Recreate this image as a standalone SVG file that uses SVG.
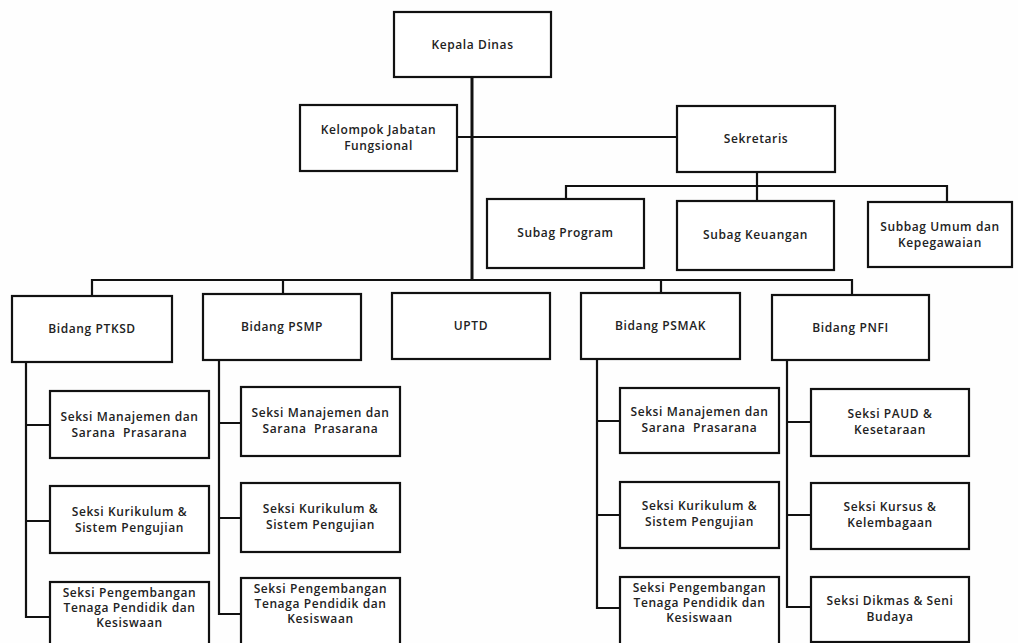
<svg xmlns="http://www.w3.org/2000/svg" width="1018" height="643" viewBox="0 0 1018 643">
<style>
.b{fill:#fff;stroke:#111;stroke-width:2.2}
.c{fill:none;stroke:#111;stroke-width:2.2}
.m{stroke-width:3}
text{font-family:"Open Sans","Liberation Sans",sans-serif;font-size:12px;font-weight:600;fill:#222;text-anchor:middle;letter-spacing:0.6px}
</style>
<rect width="1018" height="643" fill="#fefefe"/>
<g id="connectors">
<path class="c m" d="M472 77V280"/>
<path class="c" d="M457 137H677"/>
<path class="c" d="M757 172V186M566 199V186H947V202M757 186V201"/>
<path class="c" d="M92 296V280H852V295M283 280V294M661 280V293"/>
<path class="c" d="M26 362V617H50M26 425H50M26 521H50"/>
<path class="c" d="M219 360V614H241M219 423H241M219 518H241"/>
<path class="c" d="M597 359V608H620M597 421H620M597 515H620"/>
<path class="c" d="M787 360V607H811M787 422H811M787 515H811"/>
</g>
<g id="kepala"><rect class="b" x="394" y="12" width="157" height="65"/><text x="472.5" y="48.5">Kepala Dinas</text></g>
<g id="kelompok"><rect class="b" x="300" y="105" width="157" height="66"/><text x="378.5" y="134">Kelompok Jabatan</text><text x="378.5" y="150">Fungsional</text></g>
<g id="sekretaris"><rect class="b" x="677" y="106" width="158" height="66"/><text x="756" y="143">Sekretaris</text></g>
<g id="subag-program"><rect class="b" x="487" y="199" width="157" height="69"/><text x="565.5" y="237">Subag Program</text></g>
<g id="subag-keuangan"><rect class="b" x="677" y="201" width="157" height="69"/><text x="755.5" y="239">Subag Keuangan</text></g>
<g id="subbag-umum"><rect class="b" x="868" y="202" width="144" height="65"/><text x="940" y="231">Subbag Umum dan</text><text x="940" y="247">Kepegawaian</text></g>
<g id="ptksd"><rect class="b" x="12" y="296" width="160" height="66"/><text x="92" y="333">Bidang PTKSD</text></g>
<g id="psmp"><rect class="b" x="203" y="294" width="158" height="66"/><text x="282" y="331">Bidang PSMP</text></g>
<g id="uptd"><rect class="b" x="392" y="293" width="158" height="66"/><text x="471" y="330">UPTD</text></g>
<g id="psmak"><rect class="b" x="581" y="293" width="159" height="66"/><text x="660.5" y="330">Bidang PSMAK</text></g>
<g id="pnfi"><rect class="b" x="772" y="295" width="157" height="65"/><text x="850.5" y="332">Bidang PNFI</text></g>
<g id="ptksd-1"><rect class="b" x="50" y="391" width="159" height="67"/><text x="129.5" y="421">Seksi Manajemen dan</text><text x="129.5" y="437" xml:space="preserve">Sarana  Prasarana</text></g>
<g id="ptksd-2"><rect class="b" x="50" y="486" width="159" height="67"/><text x="129.5" y="516">Seksi Kurikulum &amp;</text><text x="129.5" y="532">Sistem Pengujian</text></g>
<g id="ptksd-3"><rect class="b" x="50" y="582" width="159" height="78"/><text x="129.5" y="597">Seksi Pengembangan</text><text x="129.5" y="612">Tenaga Pendidik dan</text><text x="129.5" y="627">Kesiswaan</text></g>
<g id="psmp-1"><rect class="b" x="241" y="387" width="159" height="69"/><text x="320.5" y="417">Seksi Manajemen dan</text><text x="320.5" y="433" xml:space="preserve">Sarana  Prasarana</text></g>
<g id="psmp-2"><rect class="b" x="241" y="483" width="159" height="69"/><text x="320.5" y="513">Seksi Kurikulum &amp;</text><text x="320.5" y="529">Sistem Pengujian</text></g>
<g id="psmp-3"><rect class="b" x="241" y="578" width="159" height="82"/><text x="320.5" y="593">Seksi Pengembangan</text><text x="320.5" y="608">Tenaga Pendidik dan</text><text x="320.5" y="623">Kesiswaan</text></g>
<g id="psmak-1"><rect class="b" x="620" y="388" width="159" height="65"/><text x="699.5" y="416">Seksi Manajemen dan</text><text x="699.5" y="432" xml:space="preserve">Sarana  Prasarana</text></g>
<g id="psmak-2"><rect class="b" x="620" y="482" width="159" height="66"/><text x="699.5" y="510">Seksi Kurikulum &amp;</text><text x="699.5" y="526">Sistem Pengujian</text></g>
<g id="psmak-3"><rect class="b" x="620" y="577" width="159" height="83"/><text x="699.5" y="592">Seksi Pengembangan</text><text x="699.5" y="607">Tenaga Pendidik dan</text><text x="699.5" y="622">Kesiswaan</text></g>
<g id="pnfi-1"><rect class="b" x="811" y="389" width="158" height="67"/><text x="890" y="418">Seksi PAUD &amp;</text><text x="890" y="434">Kesetaraan</text></g>
<g id="pnfi-2"><rect class="b" x="811" y="483" width="158" height="66"/><text x="890" y="511">Seksi Kursus &amp;</text><text x="890" y="527">Kelembagaan</text></g>
<g id="pnfi-3"><rect class="b" x="811" y="577" width="158" height="65"/><text x="890" y="605">Seksi Dikmas &amp; Seni</text><text x="890" y="621">Budaya</text></g>
</svg>
